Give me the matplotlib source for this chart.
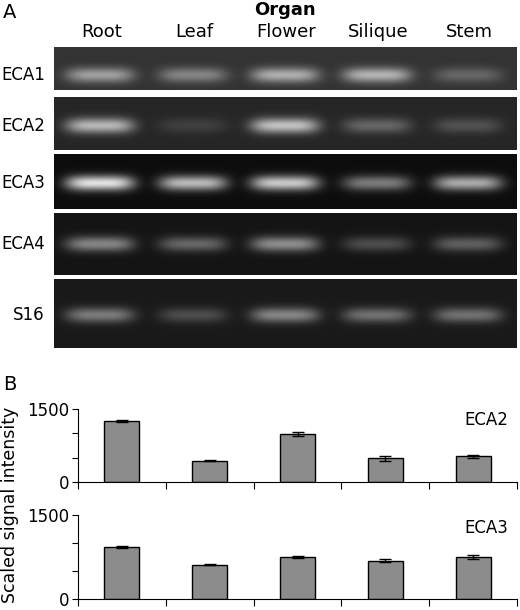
import numpy as np
import matplotlib
matplotlib.use("Agg")
import matplotlib.pyplot as plt

W, H = 520, 610

# Organ lanes
organs = ["Root", "Leaf", "Flower", "Silique", "Stem"]

# RT-PCR gel: gene names, background gray, band peak brightness per lane
genes = ["ECA1", "ECA2", "ECA3", "ECA4", "S16"]
gel_bg = [0.20, 0.15, 0.05, 0.08, 0.10]
band_eca1 = [0.62, 0.52, 0.68, 0.70, 0.40]
band_eca2 = [0.72, 0.25, 0.76, 0.40, 0.32]
band_eca3 = [0.88, 0.72, 0.78, 0.48, 0.66]
band_eca4 = [0.52, 0.40, 0.55, 0.30, 0.37]
band_s16 = [0.48, 0.30, 0.52, 0.44, 0.44]
bands = [band_eca1, band_eca2, band_eca3, band_eca4, band_s16]

# Scaled signal intensity (bar charts)
eca2_mean = [1258, 435, 988, 491, 525]
eca2_err = [20, 12, 35, 50, 25]
eca3_mean = [932, 609, 750, 686, 750]
eca3_err = [15, 10, 15, 25, 30]

# pixel rows of each gel strip (top, bottom) and band centre
gel_rows = [(47, 90, 75), (97, 150, 126), (154, 209, 183), (213, 275, 244), (279, 348, 315)]
gel_x0, gel_x1 = 54, 517

fig = plt.figure(figsize=(W / 100, H / 100), dpi=100)


def fax(x0, y0, x1, y1):
    return fig.add_axes([x0 / W, 1 - y1 / H, (x1 - x0) / W, (y1 - y0) / H])


# lane centres in pixels
lane_px = [100, 193, 285, 377, 468]

for g, (top, bot, yc), bg, lvl in zip(genes, gel_rows, gel_bg, bands):
    ax = fax(gel_x0, top, gel_x1, bot)
    xs = np.arange(gel_x0, gel_x1) + 0.5
    ys = np.arange(top, bot) + 0.5
    X, Y = np.meshgrid(xs, ys)
    img = np.full(X.shape, bg)
    for cx, v in zip(lane_px, lvl):
        hx = np.exp(-(np.abs(X - cx) / 34) ** 4)
        img += (v - bg) * hx * np.exp(-((Y - yc) / 7.5) ** 2)
    ax.imshow(np.clip(img, 0, 1), cmap="gray", vmin=0, vmax=1, aspect="auto",
              interpolation="bilinear")
    ax.set_xticks([])
    ax.set_yticks([])
    for s in ax.spines.values():
        s.set_visible(False)
    fig.text(45 / W, 1 - yc / H, g, ha="right", va="center", fontsize=12)

for name, cx in zip(organs, lane_px):
    fig.text(cx / W + 0.003, 1 - 32 / H, name, ha="center", va="center", fontsize=13)
fig.text(285 / W, 1 - 10 / H, "Organ", ha="center", va="center", fontsize=13,
         fontweight="bold")
fig.text(3 / W, 1 - 12 / H, "A", fontsize=14, va="center")
fig.text(3 / W, 1 - 384 / H, "B", fontsize=14, va="center")

x = np.arange(len(organs))
for (top, bot), mean, err, lab in [((409, 482), eca2_mean, eca2_err, "ECA2"),
                                   ((515, 599), eca3_mean, eca3_err, "ECA3")]:
    ax = fax(78, top, 517, bot)
    ax.bar(x, mean, width=0.4, color="#8c8c8c", edgecolor="black", linewidth=1,
           yerr=err, capsize=4, error_kw=dict(elinewidth=1, capthick=1))
    ax.set_xlim(-0.5, 4.5)
    ax.set_ylim(0, 1500)
    ax.set_yticks([0, 500, 1000, 1500])
    ax.set_yticklabels(["0", "", "", "1500"], fontsize=12)
    ax.set_xticks(np.arange(-0.5, 5, 1))
    ax.set_xticklabels([])
    ax.tick_params(axis="x", direction="out", length=5)
    ax.tick_params(axis="y", direction="out", length=4, pad=2)
    ax.spines["top"].set_visible(False)
    ax.spines["right"].set_visible(False)
    ax.text(0.98, 0.85, lab, transform=ax.transAxes, ha="right", va="center",
            fontsize=12)

fig.text(10 / W, 1 - 505 / H, "Scaled signal intensity", rotation=90, ha="center",
         va="center", fontsize=12.5)

fig.savefig("out.png", dpi=100)
